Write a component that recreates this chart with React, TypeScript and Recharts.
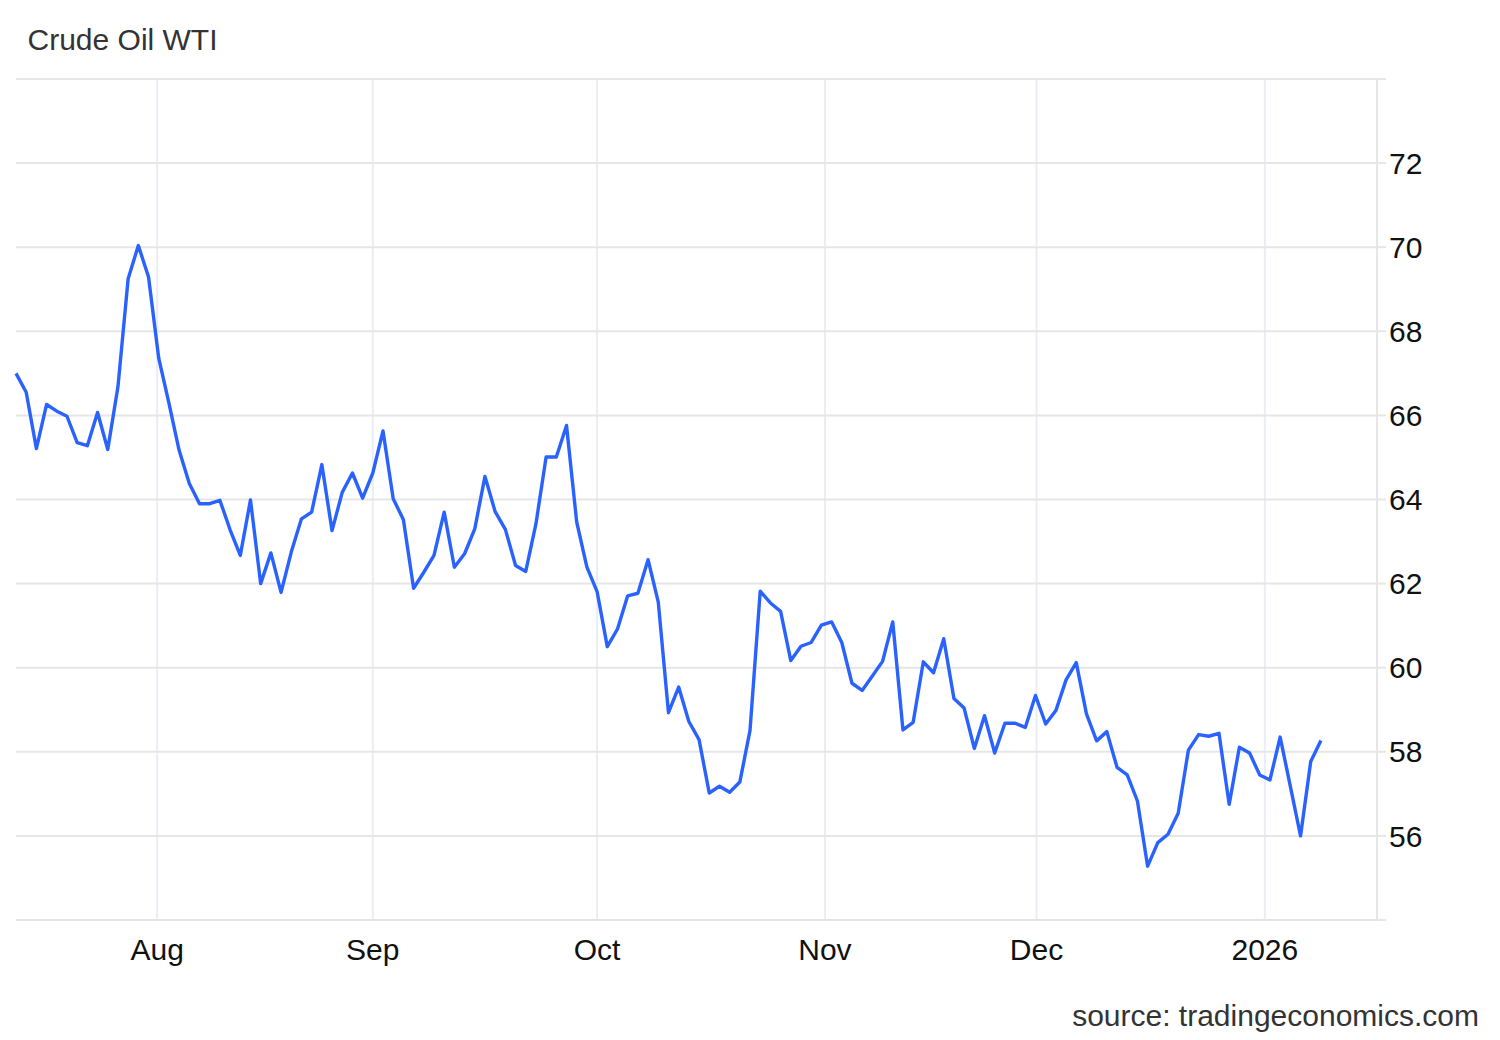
import { LineChart, Line, XAxis, YAxis, CartesianGrid } from "recharts";

// daily WTI closes (weekdays), mid-July 2025 to early January 2026
const prices = [
  67.0, 66.55, 65.21, 66.26, 66.1, 65.98, 65.35, 65.28, 66.07, 65.19,
  66.68, 69.25, 70.04, 69.29, 67.36, 66.29, 65.17, 64.38, 63.9, 63.9,
  63.98, 63.28, 62.67, 63.99, 62.0, 62.73, 61.79, 62.75, 63.54, 63.7,
  64.83, 63.26, 64.17, 64.63, 64.03, 64.63, 65.63, 64.02, 63.52, 61.89,
  62.27, 62.67, 63.7, 62.39, 62.71, 63.3, 64.55, 63.71, 63.29, 62.43,
  62.29, 63.42, 65.01, 65.01, 65.76, 63.46, 62.39, 61.81, 60.5, 60.92,
  61.71, 61.77, 62.57, 61.56, 58.93, 59.54, 58.72, 58.29, 57.02, 57.18,
  57.04, 57.28, 58.51, 61.82, 61.54, 61.34, 60.17, 60.51, 60.6, 61.01,
  61.09, 60.6, 59.63, 59.46, 59.8, 60.15, 61.09, 58.52, 58.7, 60.14,
  59.88, 60.69, 59.27, 59.04, 58.08, 58.86, 57.97, 58.68, 58.68, 58.58,
  59.34, 58.66, 58.98, 59.71, 60.12, 58.9, 58.26, 58.48, 57.63, 57.45,
  56.83, 55.28, 55.84, 56.04, 56.54, 58.04, 58.41, 58.37, 58.44, 56.75,
  58.11, 57.97, 57.45, 57.33, 58.35, 57.18, 56.0, 57.77, 58.27,
];

// month boundaries, in trading-day positions
const monthTicks = [13.85, 35, 57, 79.35, 100.1, 122.5];
const monthLabels = ["Aug", "Sep", "Oct", "Nov", "Dec", "2026"];

const priceTicks = [54, 56, 58, 60, 62, 64, 66, 68, 70, 72, 74];

const data = prices.map((v, i) => ({ i, v }));

const font = '"Liberation Sans", Arial, sans-serif';

export default function App() {
  return (
    <div style={{ position: "absolute", left: 0, top: 0, width: 1500, height: 1040, background: "#fff", fontFamily: font }}>
      <LineChart
        width={1500}
        height={1040}
        data={data}
        margin={{ top: 79, right: 23, bottom: 60, left: 16 }}
      >
        <CartesianGrid horizontal={false} syncWithTicks stroke="#e9eef4" strokeWidth={2} />
        <CartesianGrid vertical={false} syncWithTicks stroke="#e6e6e6" strokeWidth={2} />
        <XAxis
          dataKey="i"
          type="number"
          domain={[0, 133.5]}
          ticks={monthTicks}
          interval={0}
          tickFormatter={(t: number) => monthLabels[monthTicks.indexOf(t)] ?? ""}
          tickLine={false}
          tickSize={8}
          tickMargin={11}
          height={60}
          axisLine={{ stroke: "#e3e3e3", strokeWidth: 2 }}
          tick={{ fill: "#111", fontSize: 30, fontFamily: font }}
        />
        <YAxis
          orientation="right"
          domain={[54, 74]}
          ticks={priceTicks}
          interval={0}
          tickFormatter={(t: number) => (t === 54 || t === 74 ? "" : String(t))}
          width={100}
          tickSize={9}
          tickMargin={3}
          axisLine={{ stroke: "#e6e6e6", strokeWidth: 2 }}
          tickLine={{ stroke: "#e6e6e6", strokeWidth: 2 }}
          tick={{ fill: "#111", fontSize: 30, fontFamily: font, textAnchor: "start" }}
        />
        <Line
          type="linear"
          dataKey="v"
          stroke="#2962ff"
          strokeWidth={3.4}
          strokeLinejoin="round"
          dot={false}
          activeDot={false}
          isAnimationActive={false}
        />
      </LineChart>
      <svg width={1500} height={1040} style={{ position: "absolute", left: 0, top: 0, pointerEvents: "none" }}>
        <text x={27.5} y={50} fontSize={30} fill="#333" fontFamily={font}>
          Crude Oil WTI
        </text>
        <text x={1479} y={1026} fontSize={30} fill="#333" fontFamily={font} textAnchor="end">
          source: tradingeconomics.com
        </text>
      </svg>
    </div>
  );
}
